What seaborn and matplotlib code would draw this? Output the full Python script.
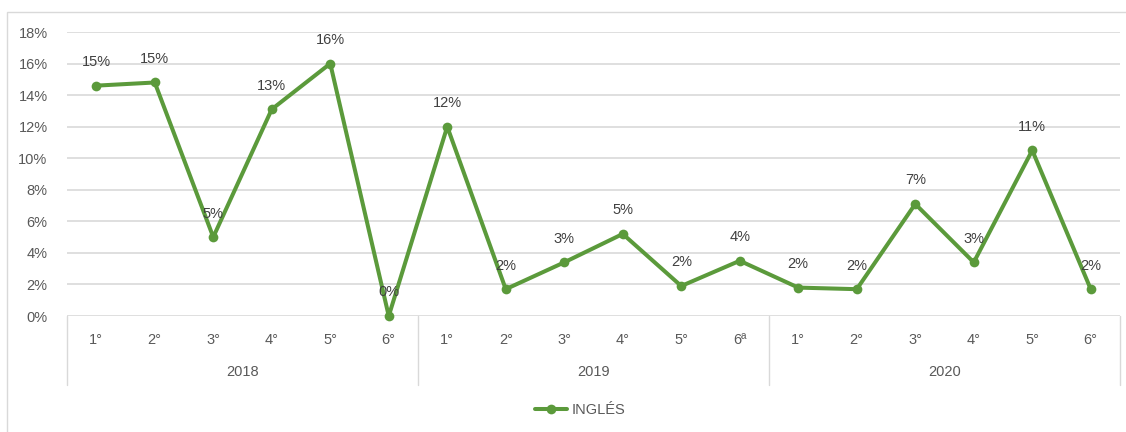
import matplotlib
matplotlib.use('Agg')

import numpy as np
import pandas as pd
import seaborn as sns
from matplotlib import pyplot as plt
from matplotlib.patches import Rectangle
from matplotlib.lines import Line2D
from matplotlib.ticker import FuncFormatter

years = ['2018', '2019', '2020']
periods = ['1°', '2°', '3°', '4°', '5°', '6°',
           '1°', '2°', '3°', '4°', '5°', '6ª',
           '1°', '2°', '3°', '4°', '5°', '6°']
ingles = [0.146, 0.148, 0.050, 0.131, 0.160, 0.000,
          0.120, 0.017, 0.034, 0.052, 0.019, 0.035,
          0.018, 0.017, 0.071, 0.034, 0.105, 0.017]
data_labels = ['15%', '15%', '5%', '13%', '16%', '0%',
               '12%', '2%', '3%', '5%', '2%', '4%',
               '2%', '2%', '7%', '3%', '11%', '2%']

GREEN = '#5b9a3b'
GRID = '#d9d9d9'
TEXT = '#595959'

sns.set_style('white')
plt.rcParams['font.family'] = ['Liberation Sans', 'DejaVu Sans']

df = pd.DataFrame({'pos': np.arange(len(ingles)), 'valor': ingles})

W, H = 1126, 432
fig = plt.figure(figsize=(W / 100, H / 100), dpi=100)
ax = fig.add_axes([67 / W, 1 - 316 / H, (1120 - 67) / W, (316 - 32) / H])

# outer chart border
fig.patches.append(Rectangle((7 / W, -0.05), 1.2, 1 - 12 / H + 0.05, transform=fig.transFigure,
                             fill=False, edgecolor=GRID, linewidth=1))

sns.lineplot(data=df, x='pos', y='valor', ax=ax, color=GREEN, linewidth=2.9,
             marker='o', markersize=7, markeredgewidth=0, clip_on=False)

for i, (v, lab) in enumerate(zip(ingles, data_labels)):
    ax.annotate(lab, (i, v), xytext=(0, 17), textcoords='offset points',
                ha='center', va='center', fontsize=10.5, color='#404040')

ax.set_xlim(-0.5, len(ingles) - 0.5)
ax.set_ylim(0, 0.18)
ax.set_yticks(np.arange(0, 0.181, 0.02))
ax.yaxis.set_major_formatter(FuncFormatter(lambda v, _: f'{v * 100:.0f}%'))
ax.yaxis.grid(True, color=GRID, linewidth=1.2)
ax.set_axisbelow(True)
for s in ax.spines.values():
    s.set_visible(False)

ax.set_xticks(df['pos'])
ax.set_xticklabels(periods)
ax.tick_params(axis='x', length=0, pad=12, labelsize=10.5, labelcolor=TEXT)
ax.tick_params(axis='y', length=0, pad=14, labelsize=10.5, labelcolor=TEXT)
ax.set_xlabel('')
ax.set_ylabel('')

# group separators and year labels under the category axis
trans = ax.get_xaxis_transform()
for x in [-0.5, 5.5, 11.5, 17.5]:
    ax.plot([x, x], [0, -69 / 284], color=GRID, linewidth=1, transform=trans, clip_on=False)
for k, yr in enumerate(years):
    ax.text(k * 6 + 2.5, -56 / 284, yr, transform=trans, ha='center', va='center',
            fontsize=10.5, color=TEXT)

handle = Line2D([], [], color=GREEN, linewidth=2.9, marker='o', markersize=7, markeredgewidth=0)
fig.legend([handle], ['INGLÉS'], loc='center', bbox_to_anchor=(580 / W, 1 - 410 / H),
           frameon=False, fontsize=10.5, labelcolor=TEXT, handlelength=2.2, handletextpad=0.3)

fig.savefig('out.png', dpi=100)
